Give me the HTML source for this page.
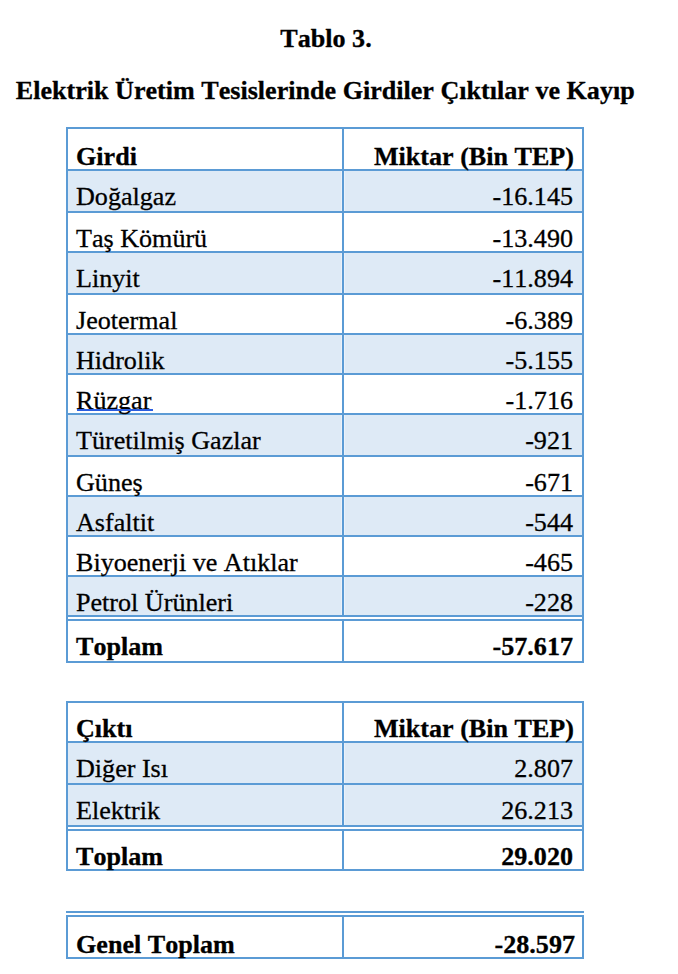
<!DOCTYPE html>
<html><head><meta charset="utf-8"><title>Tablo 3</title>
<style>
html,body{margin:0;padding:0;background:#fff;}
body{width:678px;height:974px;position:relative;overflow:hidden;font-family:"Liberation Serif",serif;color:#000;}
.b{position:absolute;}
.t{position:absolute;font-size:26.1px;line-height:30px;white-space:nowrap;font-kerning:none;font-variant-ligatures:none;-webkit-text-stroke:0.3px #000;}
.bd{font-weight:bold;}
</style></head><body>
<div class="t bd" style="top:24.19px;left:0;width:652px;text-align:center;">Tablo 3.</div>
<div class="t bd" style="top:76.19px;left:15.8px;">Elektrik Üretim Tesislerinde Girdiler Çıktılar ve Kayıp</div>
<div class="b" style="left:68px;top:171px;width:514px;height:40px;background:#deeaf6"></div>
<div class="b" style="left:341px;top:171px;width:1px;height:40px;background:#ebf2fa"></div>
<div class="b" style="left:344px;top:171px;width:1px;height:40px;background:#ebf2fa"></div>
<div class="b" style="left:68px;top:253px;width:514px;height:40px;background:#deeaf6"></div>
<div class="b" style="left:341px;top:253px;width:1px;height:40px;background:#ebf2fa"></div>
<div class="b" style="left:344px;top:253px;width:1px;height:40px;background:#ebf2fa"></div>
<div class="b" style="left:68px;top:335px;width:514px;height:38px;background:#deeaf6"></div>
<div class="b" style="left:341px;top:335px;width:1px;height:38px;background:#ebf2fa"></div>
<div class="b" style="left:344px;top:335px;width:1px;height:38px;background:#ebf2fa"></div>
<div class="b" style="left:68px;top:415px;width:514px;height:40px;background:#deeaf6"></div>
<div class="b" style="left:341px;top:415px;width:1px;height:40px;background:#ebf2fa"></div>
<div class="b" style="left:344px;top:415px;width:1px;height:40px;background:#ebf2fa"></div>
<div class="b" style="left:68px;top:497px;width:514px;height:38px;background:#deeaf6"></div>
<div class="b" style="left:341px;top:497px;width:1px;height:38px;background:#ebf2fa"></div>
<div class="b" style="left:344px;top:497px;width:1px;height:38px;background:#ebf2fa"></div>
<div class="b" style="left:68px;top:577px;width:514px;height:38px;background:#deeaf6"></div>
<div class="b" style="left:341px;top:577px;width:1px;height:38px;background:#ebf2fa"></div>
<div class="b" style="left:344px;top:577px;width:1px;height:38px;background:#ebf2fa"></div>
<div class="b" style="left:66px;top:127px;width:518px;height:2px;background:#5b9bd5"></div>
<div class="b" style="left:66px;top:169px;width:518px;height:2px;background:#5b9bd5"></div>
<div class="b" style="left:66px;top:211px;width:518px;height:2px;background:#5b9bd5"></div>
<div class="b" style="left:66px;top:251px;width:518px;height:2px;background:#5b9bd5"></div>
<div class="b" style="left:66px;top:293px;width:518px;height:2px;background:#5b9bd5"></div>
<div class="b" style="left:66px;top:333px;width:518px;height:2px;background:#5b9bd5"></div>
<div class="b" style="left:66px;top:373px;width:518px;height:2px;background:#5b9bd5"></div>
<div class="b" style="left:66px;top:413px;width:518px;height:2px;background:#5b9bd5"></div>
<div class="b" style="left:66px;top:455px;width:518px;height:2px;background:#5b9bd5"></div>
<div class="b" style="left:66px;top:495px;width:518px;height:2px;background:#5b9bd5"></div>
<div class="b" style="left:66px;top:535px;width:518px;height:2px;background:#5b9bd5"></div>
<div class="b" style="left:66px;top:575px;width:518px;height:2px;background:#5b9bd5"></div>
<div class="b" style="left:66px;top:615px;width:518px;height:2px;background:#5b9bd5"></div>
<div class="b" style="left:66px;top:619px;width:518px;height:2px;background:#5b9bd5"></div>
<div class="b" style="left:66px;top:661px;width:518px;height:2px;background:#5b9bd5"></div>
<div class="b" style="left:66px;top:127px;width:2px;height:536px;background:#5b9bd5"></div>
<div class="b" style="left:582px;top:127px;width:2px;height:536px;background:#5b9bd5"></div>
<div class="b" style="left:342px;top:127px;width:2px;height:490px;background:#5b9bd5"></div>
<div class="b" style="left:342px;top:621px;width:2px;height:42px;background:#5b9bd5"></div>
<div class="t bd" style="top:142.19px;left:76px;">Girdi</div>
<div class="t bd" style="top:142.19px;right:104px;text-align:right;">Miktar (Bin TEP)</div>
<div class="t" style="top:182.19px;left:76px;">Doğalgaz</div>
<div class="t" style="top:182.19px;right:105px;text-align:right;">-16.145</div>
<div class="t" style="top:224.19px;left:76px;">Taş Kömürü</div>
<div class="t" style="top:224.19px;right:105px;text-align:right;">-13.490</div>
<div class="t" style="top:264.19px;left:76px;">Linyit</div>
<div class="t" style="top:264.19px;right:105px;text-align:right;">-11.894</div>
<div class="t" style="top:306.19px;left:76px;">Jeotermal</div>
<div class="t" style="top:306.19px;right:105px;text-align:right;">-6.389</div>
<div class="t" style="top:346.19px;left:76px;">Hidrolik</div>
<div class="t" style="top:346.19px;right:105px;text-align:right;">-5.155</div>
<div class="t" style="top:386.19px;left:76px;">Rüzgar</div>
<div class="t" style="top:386.19px;right:105px;text-align:right;">-1.716</div>
<div class="t" style="top:426.19px;left:76px;">Türetilmiş Gazlar</div>
<div class="t" style="top:426.19px;right:105px;text-align:right;">-921</div>
<div class="t" style="top:468.19px;left:76px;">Güneş</div>
<div class="t" style="top:468.19px;right:105px;text-align:right;">-671</div>
<div class="t" style="top:508.19px;left:76px;">Asfaltit</div>
<div class="t" style="top:508.19px;right:105px;text-align:right;">-544</div>
<div class="t" style="top:548.19px;left:76px;">Biyoenerji ve Atıklar</div>
<div class="t" style="top:548.19px;right:105px;text-align:right;">-465</div>
<div class="t" style="top:588.19px;left:76px;">Petrol Ürünleri</div>
<div class="t" style="top:588.19px;right:105px;text-align:right;">-228</div>
<div class="b" style="left:77px;top:409px;width:75.8px;height:2px;background:#2b5ee0"></div>
<div class="t bd" style="top:632.19px;left:76px;">Toplam</div>
<div class="t bd" style="top:632.19px;right:105px;text-align:right;">-57.617</div>
<div class="b" style="left:66px;top:701px;width:518px;height:2px;background:#5b9bd5"></div>
<div class="b" style="left:66px;top:741px;width:518px;height:2px;background:#5b9bd5"></div>
<div class="b" style="left:66px;top:783px;width:518px;height:2px;background:#5b9bd5"></div>
<div class="b" style="left:66px;top:825px;width:518px;height:2px;background:#5b9bd5"></div>
<div class="b" style="left:66px;top:829px;width:518px;height:2px;background:#5b9bd5"></div>
<div class="b" style="left:66px;top:869px;width:518px;height:2px;background:#5b9bd5"></div>
<div class="b" style="left:68px;top:743px;width:514px;height:40px;background:#deeaf6"></div>
<div class="b" style="left:341px;top:743px;width:1px;height:40px;background:#ebf2fa"></div>
<div class="b" style="left:344px;top:743px;width:1px;height:40px;background:#ebf2fa"></div>
<div class="b" style="left:68px;top:785px;width:514px;height:40px;background:#deeaf6"></div>
<div class="b" style="left:341px;top:785px;width:1px;height:40px;background:#ebf2fa"></div>
<div class="b" style="left:344px;top:785px;width:1px;height:40px;background:#ebf2fa"></div>
<div class="b" style="left:66px;top:701px;width:2px;height:170px;background:#5b9bd5"></div>
<div class="b" style="left:582px;top:701px;width:2px;height:170px;background:#5b9bd5"></div>
<div class="b" style="left:342px;top:701px;width:2px;height:126px;background:#5b9bd5"></div>
<div class="b" style="left:342px;top:831px;width:2px;height:40px;background:#5b9bd5"></div>
<div class="t bd" style="top:714.19px;left:76px;">Çıktı</div>
<div class="t bd" style="top:714.19px;right:104px;text-align:right;">Miktar (Bin TEP)</div>
<div class="t" style="top:754.19px;left:76px;">Diğer Isı</div>
<div class="t" style="top:754.19px;right:105px;text-align:right;">2.807</div>
<div class="t" style="top:796.19px;left:76px;">Elektrik</div>
<div class="t" style="top:796.19px;right:105px;text-align:right;">26.213</div>
<div class="t bd" style="top:842.19px;left:76px;">Toplam</div>
<div class="t bd" style="top:842.19px;right:105px;text-align:right;">29.020</div>
<div class="b" style="left:66px;top:911px;width:518px;height:2px;background:#5b9bd5"></div>
<div class="b" style="left:66px;top:915px;width:518px;height:2px;background:#5b9bd5"></div>
<div class="b" style="left:66px;top:957px;width:518px;height:2px;background:#5b9bd5"></div>
<div class="b" style="left:66px;top:915px;width:2px;height:44px;background:#5b9bd5"></div>
<div class="b" style="left:582px;top:915px;width:2px;height:44px;background:#5b9bd5"></div>
<div class="b" style="left:342px;top:917px;width:2px;height:42px;background:#5b9bd5"></div>
<div class="t bd" style="top:930.19px;left:76px;">Genel Toplam</div>
<div class="t bd" style="top:930.19px;right:103px;text-align:right;">-28.597</div>
</body></html>
